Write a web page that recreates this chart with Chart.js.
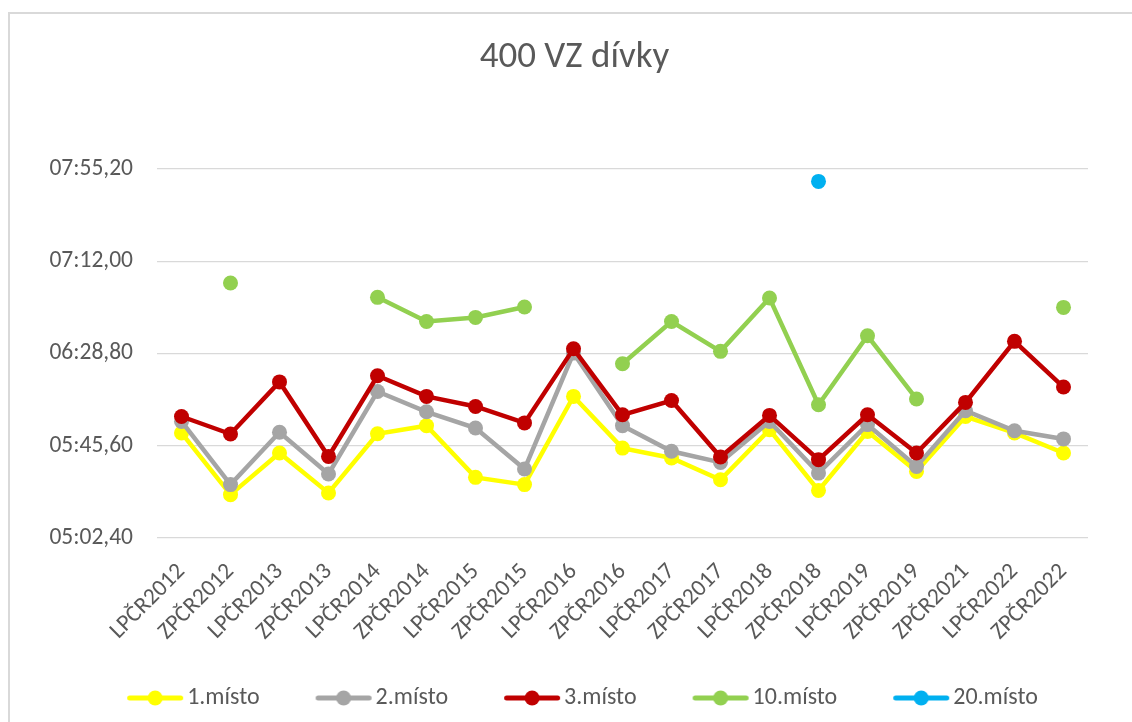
<!DOCTYPE html>
<html>
<head>
<meta charset="utf-8">
<style>
  html, body { margin: 0; padding: 0; background: #ffffff; }
  #wrap { position: relative; width: 1132px; height: 722px; }
</style>
<script src="https://cdn.jsdelivr.net/npm/chart.js"></script>
</head>
<body>
<div id="wrap"><canvas id="chart" width="1132" height="722"></canvas></div>
<script>
// values are race times in seconds
var categories = ['LPČR2012', 'ZPČR2012', 'LPČR2013', 'ZPČR2013', 'LPČR2014', 'ZPČR2014', 'LPČR2015', 'ZPČR2015',
  'LPČR2016', 'ZPČR2016', 'LPČR2017', 'ZPČR2017', 'LPČR2018', 'ZPČR2018', 'LPČR2019', 'ZPČR2019',
  'ZPČR2021', 'LPČR2022', 'ZPČR2022'];
var place1 = [351.6, 322.7, 342.2, 323.5, 351.2, 355.0, 330.8, 327.4, 368.7, 344.5, 339.9, 329.7, 353.1, 324.7, 352.3, 333.6, 359.3, 351.6, 342.2];
var place2 = [357.0, 327.4, 351.9, 332.4, 371.0, 361.5, 353.9, 334.7, 389.0, 355.0, 343.0, 337.8, 357.0, 332.8, 355.5, 335.9, 362.0, 352.6, 348.8];
var place3 = [359.3, 351.1, 375.5, 340.6, 378.4, 368.7, 364.0, 356.3, 391.0, 360.1, 366.8, 340.3, 359.8, 339.1, 360.1, 342.2, 365.9, 394.5, 373.1];
var place10 = [null, 421.8, null, null, 415.1, 403.8, 405.7, 410.6, null, 384.0, 403.8, 389.8, 414.8, 364.8, 397.1, 367.5, null, null, 410.4];
var place20 = [null, null, null, null, null, null, null, null, null, null, null, null, null, 469.4, null, null, null, null, null];
var yTicks = [302.4, 345.6, 388.8, 432.0, 475.2];

var textColor = '#595959';
var fontFamily = 'Calibri, Carlito, Lato, sans-serif';

function fmtTime(v) {
  var m = Math.floor(v / 60 + 1e-9);
  var s = (v - m * 60).toFixed(2).replace('.', ',');
  if (s.length < 5) s = '0' + s;
  return (m < 10 ? '0' : '') + m + ':' + s;
}

// legend marker: line with a dot in the middle, some empty room on its left
var LEGEND_FONT = 24, LINE_LEN = 56, LEAD = 16;
var BOX_W = LEAD + LINE_LEN + 4 - LEGEND_FONT / 2;
var IMG_W = LEAD + 70;
function legendMarker(color) {
  var c = document.createElement('canvas');
  c.width = IMG_W; c.height = 18;
  var ctx = c.getContext('2d');
  var x0 = IMG_W / 2 - BOX_W / 2 + LEAD;
  ctx.strokeStyle = color;
  ctx.lineWidth = 5;
  ctx.lineCap = 'round';
  ctx.beginPath();
  ctx.moveTo(x0 + 2.5, 9);
  ctx.lineTo(x0 + LINE_LEN - 2.5, 9);
  ctx.stroke();
  ctx.fillStyle = color;
  ctx.beginPath();
  ctx.arc(x0 + LINE_LEN / 2, 9, 7.5, 0, Math.PI * 2);
  ctx.fill();
  return c;
}

function series(label, data, color, order) {
  return {
    label: label,
    data: data,
    borderColor: color,
    backgroundColor: color,
    borderWidth: 4.5,
    pointRadius: 7.5,
    pointHoverRadius: 7.5,
    pointBorderWidth: 0,
    pointBackgroundColor: color,
    spanGaps: false,
    tension: 0,
    order: order
  };
}

var framePlugin = {
  id: 'frame',
  beforeDraw: function (chart) {
    var ctx = chart.ctx;
    ctx.save();
    ctx.fillStyle = '#ffffff';
    ctx.fillRect(0, 0, chart.width, chart.height);
    ctx.fillStyle = '#d9d9d9';
    ctx.fillRect(8, 12, 2, chart.height - 12);
    ctx.fillRect(8, 12, chart.width - 8, 2);
    ctx.restore();
  }
};

new Chart(document.getElementById('chart'), {
  type: 'line',
  data: {
    labels: categories,
    datasets: [
      series('1.místo', place1, '#FFFF00', 5),
      series('2.místo', place2, '#A5A5A5', 4),
      series('3.místo', place3, '#C00000', 3),
      series('10.místo', place10, '#92D050', 2),
      series('20.místo', place20, '#00B0F0', 1)
    ]
  },
  plugins: [framePlugin],
  options: {
    responsive: false,
    animation: false,
    devicePixelRatio: 1,
    layout: { padding: { left: 17, right: 0, top: 0, bottom: 2 } },
    plugins: {
      title: {
        display: true,
        text: '400 VZ dívky',
        color: textColor,
        font: { family: fontFamily, size: 37, weight: 'normal' },
        padding: { top: 36, bottom: 88.6 }
      },
      legend: {
        position: 'bottom',
        labels: {
          color: textColor,
          font: { family: fontFamily, size: LEGEND_FONT },
          usePointStyle: true,
          pointStyleWidth: BOX_W,
          padding: 40,
          sort: function (a, b) { return a.datasetIndex - b.datasetIndex; },
          generateLabels: function (chart) {
            return chart.data.datasets.map(function (ds, i) {
              return {
                text: ds.label,
                fontColor: textColor,
                pointStyle: legendMarker(ds.borderColor),
                datasetIndex: i,
                hidden: false,
                lineWidth: 0
              };
            });
          }
        }
      },
      tooltip: { enabled: false }
    },
    scales: {
      x: {
        offset: true,
        grid: { display: false, offset: true },
        border: { display: false },
        ticks: {
          color: textColor,
          font: { family: fontFamily, size: 23.5 },
          autoSkip: false,
          minRotation: 45,
          maxRotation: 45,
          padding: 12
        },
        afterFit: function (scale) { scale.height = 108; }
      },
      y: {
        min: yTicks[0],
        max: yTicks[yTicks.length - 1],
        grid: { color: '#d9d9d9', lineWidth: 1.3, drawTicks: false },
        border: { display: false },
        ticks: {
          color: textColor,
          font: { family: fontFamily, size: 23.5 },
          padding: 24,
          callback: function (v) { return fmtTime(v); }
        },
        afterBuildTicks: function (scale) {
          scale.ticks = yTicks.map(function (v) { return { value: v }; });
        },
        afterFit: function (scale) { scale.width = 140; }
      },
      // empty right-side spacer so the plot ends where the original does
      spacer: {
        type: 'linear',
        position: 'right',
        display: true,
        grid: { display: false },
        border: { display: false },
        ticks: { display: false },
        afterFit: function (scale) { scale.width = 44; }
      }
    }
  }
});
</script>
</body>
</html>
